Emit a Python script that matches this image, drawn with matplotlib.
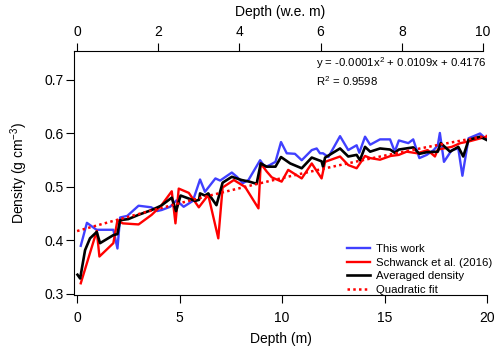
import numpy as np
import matplotlib
matplotlib.use('Agg')
import matplotlib.pyplot as plt

plt.rcParams['font.family'] = ['Liberation Sans', 'DejaVu Sans']
plt.rcParams['mathtext.default'] = 'regular'
plt.rcParams['font.size'] = 10

# this work
blue_d = [0.18, 0.48, 0.95, 1.77, 1.97, 2.1, 2.45, 3.0, 3.62, 3.9, 4.13, 4.54, 4.85, 5.2,
          5.65, 6.0, 6.24, 6.75, 6.98, 7.55, 7.8, 8.08, 8.36, 8.93, 9.17, 9.4, 9.68, 9.95,
          10.23, 10.63, 10.96, 11.45, 11.69, 11.85, 12.0, 12.26, 12.83, 13.23, 13.64, 13.77,
          14.05, 14.3, 14.78, 15.27, 15.5, 15.7, 16.16, 16.4, 16.7, 17.06, 17.4, 17.6, 17.7,
          17.9, 18.28, 18.6, 18.8, 19.1, 19.66, 19.98]
blue_rho = [0.390, 0.433, 0.420, 0.420, 0.385, 0.443, 0.446, 0.465, 0.462, 0.455, 0.457,
            0.463, 0.475, 0.463, 0.474, 0.514, 0.491, 0.516, 0.512, 0.527, 0.519, 0.507,
            0.513, 0.550, 0.537, 0.541, 0.547, 0.584, 0.563, 0.562, 0.550, 0.569, 0.572,
            0.563, 0.563, 0.556, 0.595, 0.569, 0.578, 0.564, 0.594, 0.579, 0.589, 0.589,
            0.566, 0.587, 0.582, 0.589, 0.554, 0.560, 0.569, 0.578, 0.601, 0.547, 0.569,
            0.572, 0.521, 0.591, 0.600, 0.589]

# Schwanck et al. (2016)
red_d = [0.18, 0.96, 1.09, 1.77, 1.97, 2.23, 3.0, 3.64, 4.1, 4.62, 4.8, 4.96, 5.45, 5.94,
         6.4, 6.89, 7.1, 7.65, 8.2, 8.85, 8.96, 9.25, 9.5, 9.98, 10.3, 10.96, 11.45, 11.93,
         12.1, 12.83, 13.23, 13.64, 14.05, 14.3, 14.78, 15.3, 15.7, 16.08, 16.6, 17.1,
         17.46, 17.6, 18.28, 18.7, 19.1, 19.98]
red_rho = [0.320, 0.418, 0.370, 0.395, 0.438, 0.432, 0.430, 0.448, 0.465, 0.492, 0.432,
           0.497, 0.489, 0.462, 0.485, 0.404, 0.499, 0.513, 0.500, 0.460, 0.544, 0.529,
           0.518, 0.510, 0.532, 0.516, 0.544, 0.516, 0.547, 0.557, 0.541, 0.535, 0.558,
           0.554, 0.551, 0.558, 0.560, 0.566, 0.563, 0.569, 0.557, 0.570, 0.575, 0.582,
           0.585, 0.594]

# averaged density
avg_d = [0.02, 0.15, 0.39, 0.63, 0.96, 1.12, 1.77, 1.97, 2.1, 2.5, 3.0, 3.64, 4.1, 4.62,
         4.83, 5.05, 5.76, 5.95, 6.0, 6.24, 6.4, 6.8, 7.1, 7.55, 8.03, 8.4, 8.76, 8.96,
         9.25, 9.68, 9.95, 10.4, 10.96, 11.45, 11.93, 12.0, 12.1, 12.83, 13.23, 13.64,
         13.8, 14.05, 14.3, 14.78, 15.27, 15.5, 15.7, 16.4, 16.7, 17.06, 17.6, 17.74,
         18.2, 18.6, 18.84, 19.1, 19.66, 19.98]
avg_rho = [0.336, 0.329, 0.382, 0.404, 0.416, 0.395, 0.410, 0.412, 0.438, 0.440, 0.448,
           0.457, 0.465, 0.480, 0.455, 0.484, 0.474, 0.476, 0.488, 0.484, 0.488, 0.466,
           0.508, 0.519, 0.513, 0.510, 0.506, 0.544, 0.538, 0.538, 0.556, 0.544, 0.535,
           0.555, 0.548, 0.538, 0.555, 0.572, 0.557, 0.560, 0.550, 0.575, 0.566, 0.572,
           0.570, 0.564, 0.570, 0.574, 0.562, 0.565, 0.566, 0.582, 0.566, 0.575, 0.557,
           0.588, 0.594, 0.588]

# quadratic fit coefficients from the panel text
fit_coef = [-0.0001, 0.0109, 0.4176]
fit_d = np.linspace(0, 20, 81)

we_per_m = 0.505

fig = plt.figure(figsize=(5, 3.5), dpi=100)
ax = fig.add_axes([0.148, 0.157, 0.826, 0.697])

ax.plot(blue_d, blue_rho, color='#4040ff', lw=1.7, label='This work')
ax.plot(red_d, red_rho, color='#ff0000', lw=1.7, label='Schwanck et al. (2016)')
ax.plot(avg_d, avg_rho, color='black', lw=1.9, label='Averaged density')
ax.plot(fit_d, np.polyval(fit_coef, fit_d), color='#ff0000', lw=1.8, ls=(0, (1, 1.3)),
        label='Quadratic fit')

ax.set_xlim(-0.15, 20)
ax.set_ylim(0.298, 0.754)
ax.set_xticks([0, 5, 10, 15, 20])
ax.set_yticks([0.3, 0.4, 0.5, 0.6, 0.7])
ax.set_xlabel('Depth (m)', fontsize=10, labelpad=5)
ax.set_ylabel('Density (g cm$^{-3}$)', fontsize=10, labelpad=10)
for s in ['top', 'right']:
    ax.spines[s].set_visible(False)
for s in ['left', 'bottom']:
    ax.spines[s].set_linewidth(0.8)
ax.tick_params(direction='out', length=5.5, width=0.8, labelsize=10, pad=2)
ax.tick_params(axis='x', pad=6)

sec = ax.secondary_xaxis('top', functions=(lambda d: d * we_per_m, lambda w: w / we_per_m))
sec.set_xticks([0, 2, 4, 6, 8, 10])
sec.set_xlabel('Depth (w.e. m)', fontsize=10, labelpad=7)
sec.tick_params(direction='out', length=5.5, width=0.8, labelsize=10, pad=3)
sec.spines['top'].set_linewidth(0.8)
sec.spines['top'].set_bounds(-0.15 * we_per_m, 10)

ax.text(0.587, 0.985, 'y = -0.0001x$^{2}$ + 0.0109x + 0.4176', transform=ax.transAxes,
        ha='left', va='top', fontsize=8.2)
ax.text(0.587, 0.905, 'R$^{2}$ = 0.9598', transform=ax.transAxes,
        ha='left', va='top', fontsize=8.2)

leg = ax.legend(loc='lower left', bbox_to_anchor=(0.662, 0.0), frameon=False,
                fontsize=8.2, handlelength=2.0, handletextpad=0.5, labelspacing=0.33,
                borderpad=0, borderaxespad=0)

fig.savefig('out.png', dpi=100)
